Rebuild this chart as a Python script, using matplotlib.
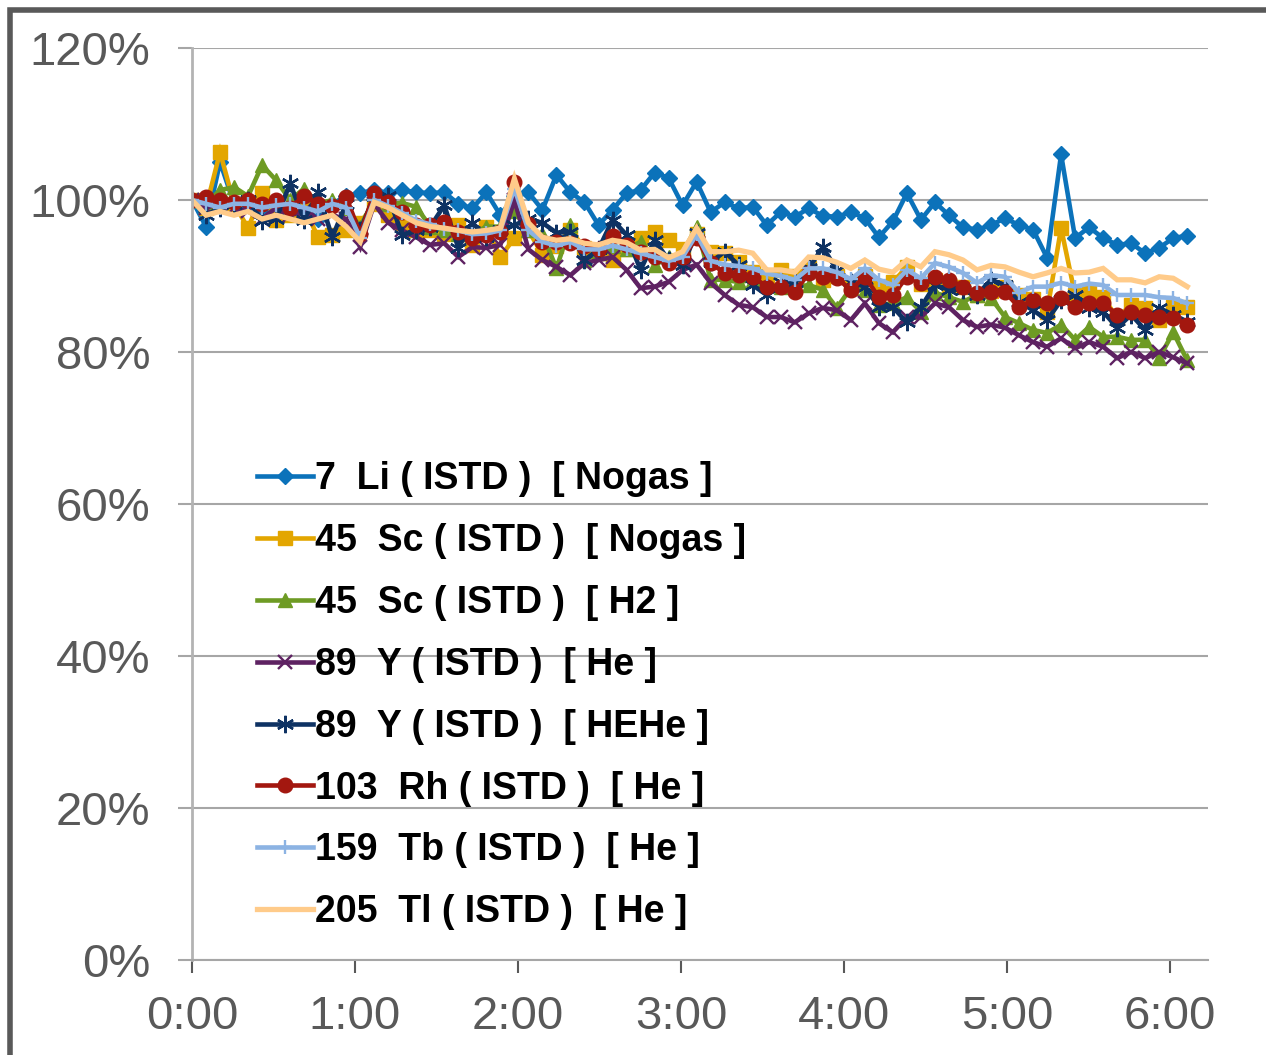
import numpy as np
import matplotlib
matplotlib.use("Agg")
import matplotlib.pyplot as plt
from matplotlib.patches import Rectangle
from matplotlib.ticker import FuncFormatter

plt.rcParams["font.family"] = ["Liberation Sans", "DejaVu Sans"]

# sampling: 72 runs, ~5 min apart
minutes = np.arange(72) * 5.16

li_nogas = [100, 96.5, 105.0, 99.5, 99.5, 99.0, 98.5, 99.0, 99.0, 97.5, 99.5, 100.5,
            100.9, 101.3, 100.9, 101.3, 101.0, 100.9, 101.0, 99.5, 98.9, 101.0, 98.0, 100.5,
            101.0, 98.7, 103.3, 101.0, 99.7, 96.7, 98.7, 100.9, 101.3, 103.6, 102.9, 99.3,
            102.4, 98.4, 99.7, 98.9, 99.1, 96.7, 98.4, 97.8, 98.9, 97.9, 97.8, 98.4,
            97.6, 95.1, 97.2, 100.9, 97.4, 99.7, 98.0, 96.4, 96.1, 96.7, 97.6, 96.7,
            96.1, 92.4, 106.0, 95.0, 96.4, 95.0, 94.1, 94.3, 93.0, 93.7, 95.0, 95.3]

sc_nogas = [100, 99.0, 106.3, 99.5, 96.3, 100.9, 97.4, 98.0, 99.0, 95.1, 95.4, 96.1,
            97.0, 99.5, 98.0, 97.0, 96.0, 96.0, 95.5, 96.7, 94.1, 96.4, 92.5, 95.0,
            96.0, 92.8, 94.0, 96.0, 93.7, 93.0, 92.1, 93.5, 95.0, 95.8, 94.7, 93.5,
            95.5, 93.2, 93.0, 91.8, 90.5, 90.0, 90.8, 90.0, 91.0, 89.5, 90.0, 89.0,
            90.0, 88.5, 89.2, 91.2, 89.0, 89.5, 88.8, 88.5, 87.5, 88.0, 88.5, 87.5,
            87.0, 85.3, 96.3, 87.5, 87.9, 87.2, 84.5, 86.2, 85.8, 84.2, 85.9, 85.9]

sc_h2 = [100, 99.5, 101.3, 101.7, 100.5, 104.6, 102.6, 100.0, 101.5, 99.5, 100.0, 99.0,
         96.5, 100.0, 99.5, 99.6, 99.1, 96.5, 96.0, 95.5, 95.5, 96.5, 96.5, 98.5,
         96.0, 95.5, 91.0, 96.7, 92.1, 93.0, 94.0, 93.5, 94.5, 91.4, 92.5, 93.0,
         96.5, 89.5, 89.5, 89.2, 89.5, 88.8, 88.6, 88.6, 88.8, 88.2, 85.8, 88.4,
         88.2, 86.2, 86.4, 87.2, 85.3, 87.8, 87.2, 86.6, 87.5, 87.1, 84.6, 83.8,
         82.9, 82.5, 83.6, 81.6, 83.3, 82.0, 82.0, 81.6, 81.6, 79.2, 82.6, 78.9]

y_he = [100, 99.0, 99.5, 99.0, 98.5, 97.5, 99.0, 98.0, 98.5, 97.5, 98.0, 97.5,
        93.8, 99.5, 97.0, 96.0, 95.1, 94.1, 94.3, 92.5, 93.8, 93.7, 94.1, 100.0,
        93.5, 92.1, 91.2, 90.1, 91.7, 92.1, 92.5, 90.8, 88.4, 88.6, 89.2, 90.8,
        91.5, 89.1, 87.5, 86.2, 85.9, 84.6, 84.6, 83.9, 85.1, 85.8, 85.5, 84.2,
        86.4, 83.8, 82.6, 84.6, 84.6, 86.4, 85.9, 84.2, 83.3, 83.6, 83.2, 82.2,
        81.3, 80.7, 81.8, 80.5, 81.3, 80.7, 79.2, 80.0, 79.2, 80.0, 79.3, 78.5]

y_hehe = [100, 98.0, 99.0, 99.5, 100.0, 97.3, 97.5, 102.2, 97.4, 101.0, 95.1, 99.5,
          96.0, 100.5, 100.5, 95.4, 96.0, 96.5, 99.3, 93.7, 97.0, 95.1, 96.0, 96.7,
          97.5, 97.0, 95.7, 95.8, 92.1, 93.5, 97.4, 95.4, 90.8, 94.7, 92.1, 91.4,
          95.7, 91.8, 93.2, 91.4, 88.8, 87.5, 89.2, 89.2, 91.0, 93.8, 90.8, 89.2,
          88.6, 85.9, 85.9, 83.9, 85.9, 88.8, 88.2, 88.2, 87.5, 89.5, 88.8, 86.6,
          85.5, 84.2, 86.8, 87.5, 85.8, 85.3, 83.2, 84.9, 82.9, 85.8, 84.9, 84.0]

rh_he = [100, 100.4, 100.0, 99.8, 100.0, 99.5, 100.0, 99.0, 100.5, 99.5, 99.2, 100.4,
         95.5, 100.9, 99.7, 98.4, 96.7, 96.7, 97.1, 95.8, 95.0, 95.4, 95.8, 102.4,
         96.8, 94.5, 94.5, 94.3, 94.0, 93.6, 95.3, 94.1, 93.2, 92.5, 91.7, 92.5,
         95.0, 91.7, 90.4, 90.1, 89.9, 88.6, 88.6, 87.9, 90.4, 89.9, 89.7, 88.2,
         89.9, 87.2, 87.5, 89.9, 89.1, 89.9, 89.5, 88.6, 87.8, 87.9, 87.9, 85.9,
         86.8, 86.4, 87.1, 85.9, 86.4, 86.4, 84.9, 85.3, 84.9, 84.6, 84.5, 83.6]

tb_he = [100, 99.5, 99.0, 99.5, 99.5, 99.0, 99.3, 99.5, 99.0, 98.5, 99.5, 99.0,
         95.0, 100.0, 99.2, 98.3, 97.3, 96.8, 96.2, 96.0, 95.5, 95.6, 96.0, 101.5,
         96.0, 94.5, 94.0, 94.5, 93.5, 93.5, 94.0, 93.5, 93.0, 92.5, 92.0, 92.5,
         95.5, 92.0, 91.5, 91.3, 91.0, 90.3, 90.0, 89.5, 91.0, 91.0, 90.5, 89.6,
         91.0, 89.5, 88.8, 90.8, 89.7, 91.7, 91.2, 90.4, 89.1, 90.1, 89.9, 87.8,
         88.6, 88.6, 89.1, 88.6, 89.0, 88.8, 87.5, 87.5, 87.5, 87.2, 87.1, 86.4]

tl_he = [100, 98.0, 98.5, 98.0, 98.5, 97.5, 98.0, 97.5, 97.0, 97.5, 98.0, 96.5,
         94.5, 99.7, 99.0, 98.0, 97.0, 96.5, 96.3, 96.0, 95.8, 96.0, 96.3, 102.8,
         97.0, 95.1, 94.7, 94.9, 94.3, 94.1, 94.7, 94.4, 93.4, 93.5, 92.4, 93.2,
         96.3, 93.2, 93.2, 93.4, 93.0, 90.8, 90.8, 90.5, 92.5, 92.4, 91.8, 91.0,
         92.1, 90.9, 90.5, 92.1, 91.2, 93.2, 92.8, 92.1, 90.8, 91.4, 91.2, 90.5,
         89.9, 90.4, 91.0, 90.4, 90.5, 91.0, 89.5, 89.5, 89.1, 89.9, 89.7, 88.6]

labels = ["7  Li ( ISTD )  [ Nogas ]",
          "45  Sc ( ISTD )  [ Nogas ]",
          "45  Sc ( ISTD )  [ H2 ]",
          "89  Y ( ISTD )  [ He ]",
          "89  Y ( ISTD )  [ HEHe ]",
          "103  Rh ( ISTD )  [ He ]",
          "159  Tb ( ISTD )  [ He ]",
          "205  Tl ( ISTD )  [ He ]"]

series = [li_nogas, sc_nogas, sc_h2, y_he, y_hehe, rh_he, tb_he, tl_he]

# (color, marker, markersize, linewidth)
styles = [
    ("#0B72BA", "D", 8.5, 3.3),
    ("#E3A600", "s", 9.5, 3.3),
    ("#6E9B24", "^", 10.5, 3.3),
    ("#5E2262", "x", 9.5, 3.3),
    ("#0E3263", (6, 2, 0), 12.5, 3.3),
    ("#A3170F", "o", 10.5, 3.3),
    ("#8CB3E3", "+", 10.5, 3.3),
    ("#FFCB8A", None, 0, 3.8),
]

fig = plt.figure(figsize=(12.66, 10.55), dpi=100)
ax = fig.add_axes([192 / 1266, 1 - 960 / 1055, 1016 / 1266, 912 / 1055])

for vals, lab, (col, mk, ms, lw) in zip(series, labels, styles):
    ax.plot(minutes, vals, color=col, lw=lw, marker=mk, ms=ms,
            markeredgewidth=1.7 if mk in ("x", "+", (6, 2, 0)) else 1,
            label=lab, solid_joinstyle="miter")

ax.set_ylim(0, 120)
ax.set_xlim(0, 374)
ax.set_yticks(range(0, 121, 20))
ax.yaxis.set_major_formatter(FuncFormatter(lambda v, p: f"{int(v)}%"))
ax.set_xticks(range(0, 361, 60))
ax.set_xticklabels([f"{h}:00" for h in range(7)])

ax.grid(axis="y", color="#a6a6a6", lw=1.5)
ax.set_axisbelow(True)
for s in ("top", "right"):
    ax.spines[s].set_visible(False)
ax.spines["left"].set_color("#b3b3b3")
ax.spines["left"].set_linewidth(2)
ax.spines["bottom"].set_color("#a6a6a6")
ax.spines["bottom"].set_linewidth(1.5)

ax.tick_params(axis="y", length=10, width=1.5, color="#a6a6a6",
               labelsize=34, labelcolor="#595959", pad=20)
ax.tick_params(axis="x", length=9, width=1.5, color="#595959",
               labelsize=34, labelcolor="#595959", pad=16)

leg = ax.legend(loc="upper left", bbox_to_anchor=(0.064, 0.547), frameon=False,
                prop={"weight": "bold", "size": 27}, handlelength=1.5,
                handletextpad=0.05, labelspacing=0.69, borderpad=0,
                borderaxespad=0)
for t in leg.get_texts():
    t.set_color("black")

# outer chart border (cropped on right / bottom)
fig.patches.append(Rectangle((10 / 1266, -0.1), 1.2, 1.1 - 10 / 1055,
                             transform=fig.transFigure, fill=False,
                             edgecolor="#595959", lw=4, zorder=10))

fig.savefig("out.png", dpi=100)
